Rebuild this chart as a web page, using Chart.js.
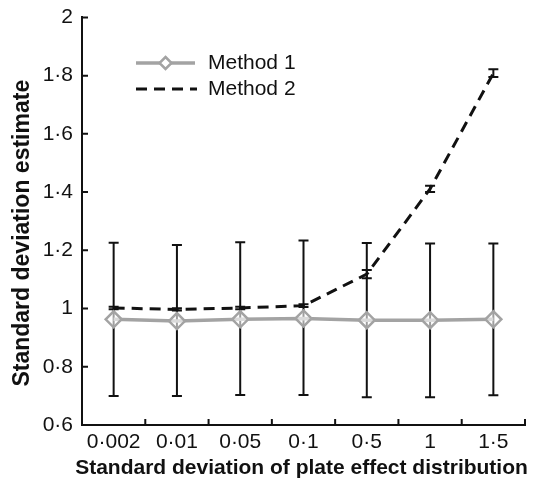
<!DOCTYPE html>
<html>
<head>
<meta charset="utf-8">
<script src="https://cdn.jsdelivr.net/npm/chart.js@4.4.1/dist/chart.umd.min.js"></script>
<style>
  html, body { margin: 0; padding: 0; background: #fff; }
  #wrap { width: 536px; height: 482px; }
</style>
</head>
<body>
<div id="wrap"><canvas id="chart" width="536" height="482"></canvas></div>
<script>
const categories = ['0·002', '0·01', '0·05', '0·1', '0·5', '1', '1·5'];
const method1 = [0.963, 0.957, 0.963, 0.966, 0.960, 0.960, 0.963];
const method1Low = [0.700, 0.700, 0.703, 0.703, 0.695, 0.695, 0.702];
const method1High = [1.226, 1.218, 1.228, 1.234, 1.225, 1.223, 1.223];
const method2 = [1.002, 0.997, 1.002, 1.010, 1.118, 1.411, 1.808];
const method2Low = [0.998, 0.993, 0.998, 1.005, 1.104, 1.400, 1.795];
const method2High = [1.006, 1.001, 1.006, 1.015, 1.132, 1.422, 1.822];
const yTicks = [0.6, 0.8, 1, 1.2, 1.4, 1.6, 1.8, 2];
const xTitle = 'Standard deviation of plate effect distribution';
const yTitle = 'Standard deviation estimate';

const FONT = "'Liberation Sans', Arial, Helvetica, sans-serif";
const GREY = '#a3a3a3';

const fmt = (v) => String(Math.round(v * 10) / 10).replace('.', '·');

// error bars, drawn under the lines
const errorBars = {
  id: 'errorBars',
  beforeDatasetsDraw(chart) {
    const { ctx, scales: { x, y } } = chart;
    const sets = [[method1Low, method1High], [method2Low, method2High]];
    ctx.save();
    ctx.strokeStyle = '#111';
    ctx.lineWidth = 2;
    sets.forEach(([lo, hi]) => {
      categories.forEach((c, i) => {
        const px = x.getPixelForValue(i);
        const y0 = y.getPixelForValue(lo[i]);
        const y1 = y.getPixelForValue(hi[i]);
        ctx.beginPath();
        ctx.moveTo(px, y0); ctx.lineTo(px, y1);
        ctx.moveTo(px - 5, y0); ctx.lineTo(px + 5, y0);
        ctx.moveTo(px - 5, y1); ctx.lineTo(px + 5, y1);
        ctx.stroke();
      });
    });
    ctx.restore();
  },
};

// inward tick marks, axis titles (drawn by hand so they are not squeezed) and legend
const frame = {
  id: 'frame',
  afterDraw(chart) {
    const { ctx, chartArea: a, scales: { x, y } } = chart;
    ctx.save();
    ctx.strokeStyle = '#111';
    ctx.lineWidth = 2;
    ctx.beginPath();
    yTicks.forEach((t) => {
      const py = y.getPixelForValue(t);
      ctx.moveTo(a.left, py); ctx.lineTo(a.left + 6, py);
    });
    const step = x.getPixelForValue(1) - x.getPixelForValue(0);
    for (let i = 0; i < categories.length; i++) {
      const px = x.getPixelForValue(i) + step / 2;
      ctx.moveTo(px, a.bottom); ctx.lineTo(px, a.bottom - 6);
    }
    ctx.stroke();

    ctx.fillStyle = '#111';
    ctx.font = 'bold 21px ' + FONT;
    ctx.textAlign = 'center';
    ctx.textBaseline = 'middle';
    ctx.fillText(xTitle, (a.left + a.right) / 2 - 2, 468);

    ctx.save();
    ctx.translate(23, (a.top + a.bottom) / 2 + 12);
    ctx.rotate(-Math.PI / 2);
    ctx.font = 'bold 23px ' + FONT;
    ctx.fillText(yTitle, 0, 0);
    ctx.restore();

    // legend
    const ds = chart.data.datasets;
    const lx0 = 136, lx1 = 195, ly = [63, 89];
    ctx.lineWidth = 3.5;
    ctx.strokeStyle = GREY;
    ctx.beginPath(); ctx.moveTo(lx0, ly[0]); ctx.lineTo(lx1, ly[0]); ctx.stroke();
    const cx = (lx0 + lx1) / 2;
    ctx.fillStyle = '#fff';
    ctx.lineWidth = 2.5;
    ctx.beginPath();
    ctx.moveTo(cx, ly[0] - 6); ctx.lineTo(cx + 6, ly[0]);
    ctx.lineTo(cx, ly[0] + 6); ctx.lineTo(cx - 6, ly[0]); ctx.closePath();
    ctx.fill(); ctx.stroke();
    ctx.strokeStyle = '#111';
    ctx.lineWidth = 3;
    ctx.setLineDash([11, 7]);
    ctx.beginPath(); ctx.moveTo(lx0, ly[1]); ctx.lineTo(lx1 + 2, ly[1]); ctx.stroke();
    ctx.setLineDash([]);
    ctx.fillStyle = '#111';
    ctx.font = '21px ' + FONT;
    ctx.textAlign = 'left';
    ctx.fillText(ds[0].label, 208, ly[0]);
    ctx.fillText(ds[1].label, 208, ly[1]);
    ctx.restore();
  },
};

new Chart(document.getElementById('chart'), {
  type: 'line',
  data: {
    labels: categories,
    datasets: [
      {
        label: 'Method 1',
        data: method1,
        borderColor: GREY,
        borderWidth: 3.5,
        pointStyle: 'rectRot',
        pointRadius: 8,
        pointBorderWidth: 2.5,
        pointBackgroundColor: 'rgba(255,255,255,0.6)',
        pointBorderColor: GREY,
        tension: 0,
        order: 2,
      },
      {
        label: 'Method 2',
        data: method2,
        borderColor: '#111',
        borderWidth: 3,
        borderDash: [11, 7],
        pointRadius: 0,
        tension: 0,
        order: 1,
      },
    ],
  },
  options: {
    responsive: false,
    animation: false,
    layout: { padding: { top: 0, right: 11, left: 0, bottom: 0 } },
    plugins: { legend: { display: false }, tooltip: { enabled: false } },
    scales: {
      x: {
        offset: true,
        grid: { display: false, drawTicks: false },
        border: { display: true, color: '#111', width: 2 },
        ticks: { color: '#111', font: { family: FONT, size: 21 }, padding: 5, maxRotation: 0 },
        afterFit(s) { s.height = 57; },
      },
      y: {
        min: 0.6,
        max: 2,
        afterBuildTicks(s) { s.ticks = yTicks.map((v) => ({ value: v })); },
        grid: { display: false, drawTicks: false },
        border: { display: true, color: '#111', width: 2 },
        ticks: { color: '#111', font: { family: FONT, size: 21, lineHeight: 0.8 }, padding: 9, callback: (v) => fmt(v) },
        afterFit(s) { s.width = 82; },
      },
    },
  },
  plugins: [errorBars, frame],
});
</script>
</body>
</html>
